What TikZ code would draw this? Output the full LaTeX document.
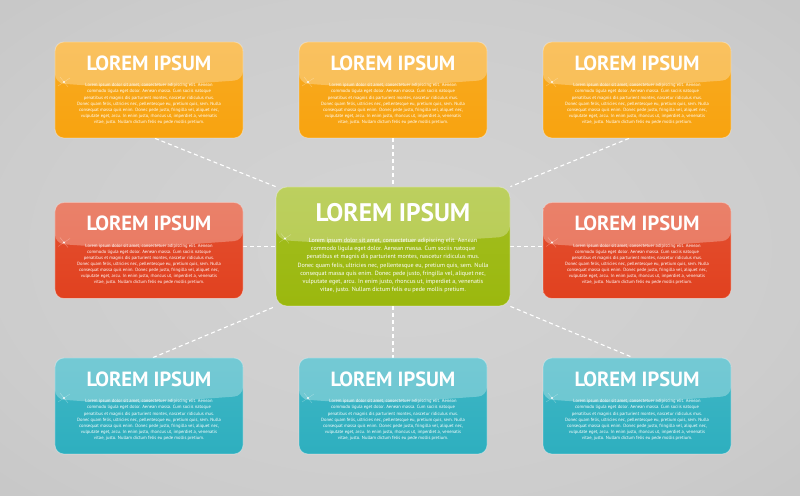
\documentclass[tikz,border=0pt]{standalone}
\usepackage{fontspec}
\setmainfont{PT Sans}
\usetikzlibrary{backgrounds}
\definecolor{boxorange}{HTML}{F8A30F}
\definecolor{boxred}{HTML}{E1411F}
\definecolor{boxteal}{HTML}{2EAFBF}
\definecolor{boxgreen}{HTML}{9BB80E}
\definecolor{bgcentre}{HTML}{D4D4D4}
\definecolor{bgmid}{HTML}{CDCDCD}
\definecolor{bgedge}{HTML}{C0C0C0}
\definecolor{bgcorner}{HTML}{A4A4A4}
\pgfdeclareradialshading{bgglow}{\pgfpoint{0bp}{0bp}}{%
  color(0bp)=(bgcentre); color(25bp)=(bgmid); color(50bp)=(bgedge);
  color(71bp)=(bgcorner)}
\newcommand{\loremlines}{Lorem ipsum dolor sit amet, consectetuer adipiscing elit. Aenean\\
commodo ligula eget dolor. Aenean massa. Cum sociis natoque\\
penatibus et magnis dis parturient montes, nascetur ridiculus mus.\\
Donec quam felis, ultricies nec, pellentesque eu, pretium quis, sem. Nulla\\
consequat massa quis enim. Donec pede justo, fringilla vel, aliquet nec,\\
vulputate eget, arcu. In enim justo, rhoncus ut, imperdiet a, venenatis\\
vitae, justo. Nullam dictum felis eu pede mollis pretium.}
\tikzset{%
  every box/.style={
    rounded corners=9bp,
    draw=white, draw opacity=0.35, line width=0.8bp,
    minimum width=188bp, minimum height=96bp, inner sep=0pt,
    path picture={
      \fill [white, opacity=0.28]
        (path picture bounding box.north west)
        -- ([yshift=7bp]path picture bounding box.west)
        .. controls ([xshift=70bp,yshift=1bp]path picture bounding box.west)
           and ([xshift=-70bp,yshift=5bp]path picture bounding box.east)
        .. ([yshift=10bp]path picture bounding box.east)
        -- (path picture bounding box.north east) -- cycle;
      \fill [white, opacity=0.9] ([xshift=9bp,yshift=8bp]path picture bounding box.west) circle (1.2bp);
      \draw [white, line width=0.4bp]
        ([xshift=3bp,yshift=4bp]path picture bounding box.west) -- ([xshift=15bp,yshift=12bp]path picture bounding box.west)
        ([xshift=5bp,yshift=13bp]path picture bounding box.west) -- ([xshift=13bp,yshift=3bp]path picture bounding box.west);
    }
  },
  box centre/.style={
    minimum width=234bp, minimum height=119bp, rounded corners=11bp
  },
  box title/.style={
    text=white, inner sep=0pt,
    font=\bfseries\fontsize{20.6}{22}\selectfont
  },
  box body/.style={
    text=white, align=center, inner sep=0pt,
    font=\fontsize{4.6}{6.1}\selectfont
  },
  link/.style={
    draw=white, dash pattern=on 4bp off 3bp, line width=1.1bp
  },
}
\begin{document}
\begin{tikzpicture}[x=1bp, y=1bp]
  \useasboundingbox (0,0) rectangle (800,496);

  % Outer boxes
  \foreach \name/\x/\y/\c in {top-1/149/406/boxorange, top-2/393/406/boxorange,
      top-3/637/406/boxorange, side-1/149/245.5/boxred, side-2/637/245.5/boxred,
      bottom-1/149/90/boxteal, bottom-2/393/90/boxteal, bottom-3/637/90/boxteal}
  {
    \node [every box, top color=\c!92!white, bottom color=\c] (\name) at (\x,\y) {};
    \node [box title] (\name-title) at ([yshift=27bp]\name.center) {LOREM IPSUM};
    \node [box body] (\name-body) at ([yshift=-14bp]\name.center) {\loremlines};
  }

  % Centre box
  \node [every box, box centre, top color=boxgreen!92!white, bottom color=boxgreen] (centre) at (393,249.5) {};
  \node [box title, font=\bfseries\fontsize{25.5}{27}\selectfont] (centre-title) at ([yshift=33.5bp]centre.center) {LOREM IPSUM};
  \node [box body, font=\fontsize{6.1}{8.2}\selectfont] (centre-body) at ([yshift=-19bp]centre.center) {\loremlines};

  % Background and dashed links
  \begin{pgfonlayer}{background}
    \shade [shading=bgglow] (0,0) rectangle (800,496);
    \draw [link] ([xshift=6bp]top-1.south) -- (centre.north west);
    \draw [link] (top-2.south) -- (centre.north);
    \draw [link] ([xshift=-8bp]top-3.south) -- (centre.north east);
    \draw [link] (side-1.east |- centre.west) -- (centre.west);
    \draw [link] (centre.east) -- (side-2.west |- centre.east);
    \draw [link] ([xshift=4bp]bottom-1.north) -- (centre.south west);
    \draw [link] (centre.south) -- (bottom-2.north);
    \draw [link] (centre.south east) -- ([xshift=-4bp]bottom-3.north);
  \end{pgfonlayer}
\end{tikzpicture}
\end{document}
